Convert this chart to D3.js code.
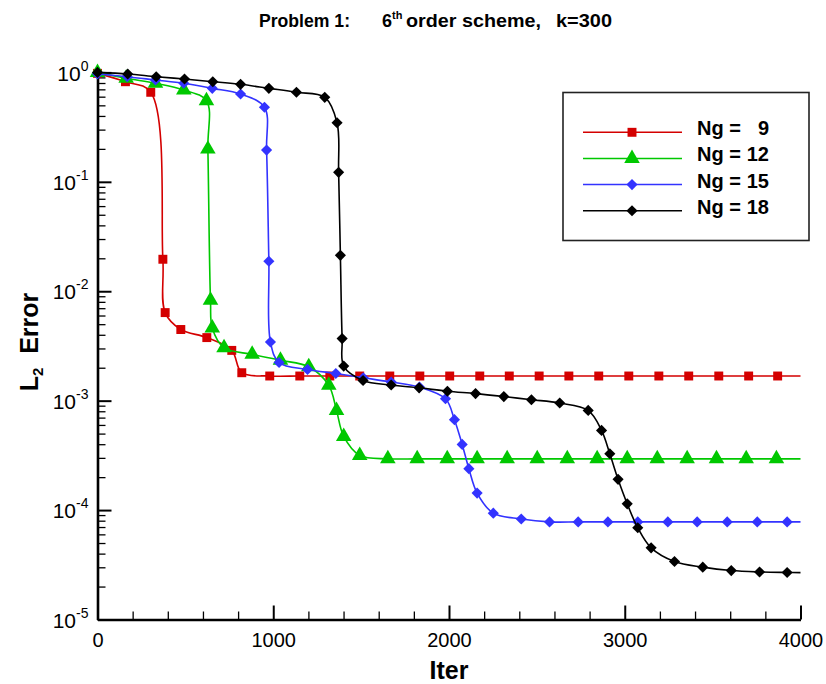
<!DOCTYPE html>
<html>
<head>
<meta charset="utf-8">
<title>Problem 1: 6th order scheme, k=300</title>
<script src="https://d3js.org/d3.v7.min.js"></script>
<style>
    body { margin: 0; background: #fff; }
    svg { display: block; font-family: 'Liberation Sans', Arial, sans-serif; }
    .axis .domain { stroke: #000; stroke-width: 2.6px; }
    .axis .tick line { stroke: #000; }
    .axis text { fill: #000; font-size: 20px; }
</style>
</head>
<body>
<svg id="chart"></svg>
<script>
// iterations / L2 error (last point = end of line, no marker)
const iter9  = [0,159,303,372,385,474,622,764,821,980,1151,1322,1492,1663,1834,2004,2175,2343,2513,2682,2852,3023,3194,3364,3535,3705,3870,4000];
const err9   = [0.98,0.822,0.658,0.0196,0.00638,0.00447,0.00377,0.00288,0.00180,0.00168,0.00168,0.00168,0.00168,0.00168,0.00168,0.00168,0.00168,0.00168,0.00168,0.00168,0.00168,0.00168,0.00168,0.00168,0.00168,0.00168,0.00168,0.00168];

const iter12 = [0,163,330,491,620,628,643,653,720,880,1041,1202,1316,1360,1401,1492,1652,1819,1990,2160,2331,2502,2673,2843,3014,3185,3355,3522,3691,3863,4000];
const err12  = [1.0,0.883,0.795,0.69,0.551,0.199,0.00827,0.00462,0.00305,0.00265,0.00234,0.00204,0.00138,8.15e-4,4.71e-4,3.16e-4,2.94e-4,2.94e-4,2.94e-4,2.94e-4,2.94e-4,2.94e-4,2.94e-4,2.94e-4,2.94e-4,2.94e-4,2.94e-4,2.94e-4,2.94e-4,2.94e-4,2.94e-4];

const iter15 = [0,169,330,491,653,814,950,962,975,984,1033,1195,1356,1512,1671,1832,1980,2031,2075,2113,2160,2252,2411,2572,2735,2904,3074,3245,3412,3583,3754,3924,4000];
const err15  = [0.97,0.913,0.852,0.795,0.715,0.634,0.480,0.195,0.0188,0.00344,0.00223,0.00193,0.00177,0.00162,0.00148,0.00133,0.00104,6.70e-4,3.98e-4,2.39e-4,1.43e-4,9.37e-5,8.29e-5,7.8e-5,7.8e-5,7.8e-5,7.8e-5,7.8e-5,7.8e-5,7.8e-5,7.8e-5,7.8e-5,7.8e-5];

const iter18 = [0,172,334,495,656,814,975,1132,1293,1363,1372,1382,1392,1401,1511,1671,1830,1991,2151,2312,2469,2630,2792,2868,2915,2962,3014,3074,3150,3283,3444,3606,3767,3924,4000];
const err18  = [1.0,0.967,0.913,0.870,0.822,0.778,0.715,0.658,0.592,0.347,0.122,0.0213,0.00369,0.00207,0.00153,0.00139,0.00131,0.00122,0.00116,0.00109,0.00102,9.51e-4,8.15e-4,5.35e-4,3.27e-4,1.91e-4,1.14e-4,6.89e-5,4.52e-5,3.39e-5,3.01e-5,2.80e-5,2.72e-5,2.69e-5,2.68e-5];

const seriesNames = ["9", "12", "15", "18"];
const xTicks = [0, 1000, 2000, 3000, 4000];
const yExponents = [0, -1, -2, -3, -4, -5];

const series = [
    { ng: seriesNames[0], it: iter9,  err: err9,  color: "#d40000", shape: "square" },
    { ng: seriesNames[1], it: iter12, err: err12, color: "#00c800", shape: "triangle" },
    { ng: seriesNames[2], it: iter15, err: err15, color: "#3333ff", shape: "diamond" },
    { ng: seriesNames[3], it: iter18, err: err18, color: "#000000", shape: "diamond" }
];

const width = 826, height = 684;
const svg = d3.select("#chart").attr("width", width).attr("height", height);

const x = d3.scaleLinear().domain([0, 4000]).range([97.5, 800.5]);
const y = d3.scaleLog().domain([1e-5, 1]).range([619.5, 72.4]);

// marker shapes
const symbols = {
    square:   d3.symbol().type(d3.symbolSquare).size(80),
    triangle: d3.symbol().type(d3.symbolTriangle).size(105),
    diamond:  d3.symbol().type(d3.symbolSquare).size(62)
};
const rot = s => s === "diamond" ? " rotate(45)" : "";

// title
const tStyle = t => t.style("font-size", "18px").style("font-weight", "bold");
svg.append("text").attr("x", 259).attr("y", 27).call(tStyle)
    .attr("textLength", 91).attr("lengthAdjust", "spacingAndGlyphs").text("Problem 1:");
const t2 = svg.append("text").attr("x", 382).attr("y", 27).call(tStyle);
t2.append("tspan").text("6");
t2.append("tspan").attr("dy", -8).style("font-size", "11px").text("th");
svg.append("text").attr("x", 406).attr("y", 27).call(tStyle)
    .attr("textLength", 135).attr("lengthAdjust", "spacingAndGlyphs").text("order scheme,");
svg.append("text").attr("x", 556).attr("y", 27).call(tStyle)
    .attr("textLength", 56).attr("lengthAdjust", "spacingAndGlyphs").text("k=300");

// x axis
const minorX = d3.range(0, 4001, 200).filter(v => v % 1000 !== 0);
svg.append("g").attr("class", "axis")
    .attr("transform", "translate(0,619.5)")
    .call(d3.axisBottom(x).tickValues(minorX).tickSize(-8).tickSizeOuter(0).tickFormat(""))
    .call(g => g.select(".domain").remove())
    .selectAll(".tick line").attr("stroke-width", 1.3);
svg.append("g").attr("class", "axis")
    .attr("transform", "translate(0,619.5)")
    .call(d3.axisBottom(x).tickValues(xTicks).tickSize(-14).tickSizeOuter(0).tickPadding(13).tickFormat(d3.format("d")))
    .call(g => g.selectAll(".tick line").attr("stroke-width", 2));

// y axis
const minorY = [];
yExponents.slice(0, -1).forEach(e => { for (let k = 2; k <= 9; k++) minorY.push(k * Math.pow(10, e - 1)); });
svg.append("g").attr("class", "axis")
    .attr("transform", "translate(97.5,0)")
    .call(d3.axisLeft(y).tickValues(minorY).tickSize(-8).tickSizeOuter(0).tickFormat(""))
    .call(g => g.select(".domain").remove())
    .selectAll(".tick line").attr("stroke-width", 1.3);
const yAx = svg.append("g").attr("class", "axis")
    .attr("transform", "translate(97.5,0)")
    .call(d3.axisLeft(y).tickValues(yExponents.map(e => Math.pow(10, e))).tickSize(-14).tickSizeOuter(0).tickPadding(9));
yAx.selectAll(".tick line").attr("stroke-width", 2);
yAx.selectAll(".tick text").each(function(d) {
    const t = d3.select(this).text("").attr("dy", "0.38em");
    t.append("tspan").style("font-size", "21px").text("10");
    t.append("tspan").attr("dy", -10).style("font-size", "14px").text(Math.round(Math.log10(d)));
});

// axis titles
svg.append("text").attr("x", 449).attr("y", 679).attr("text-anchor", "middle")
    .style("font-size", "25px").style("font-weight", "bold").text("Iter");
const yt = svg.append("text").attr("transform", "translate(38,342) rotate(-90)")
    .attr("text-anchor", "middle").style("font-size", "25px").style("font-weight", "bold");
yt.append("tspan").text("L");
yt.append("tspan").attr("dy", 5).style("font-size", "15px").text("2");
yt.append("tspan").attr("dy", -5).text("\u00a0 Error");

// curves
const line = d3.line()
    .x(d => x(d[0]))
    .y(d => y(d[1]))
    .curve(d3.curveCatmullRom.alpha(0.5));

series.forEach(s => {
    const pts = s.it.map((v, i) => [v, s.err[i]]);
    const g = svg.append("g");
    g.append("path").datum(pts)
        .attr("d", line)
        .attr("fill", "none")
        .attr("stroke", s.color)
        .attr("stroke-width", 1.6);
    g.selectAll("path.mk").data(pts.slice(0, -1)).enter().append("path")
        .attr("class", "mk")
        .attr("d", symbols[s.shape])
        .attr("transform", d => `translate(${x(d[0])},${y(d[1])})${rot(s.shape)}`)
        .attr("fill", s.color);
});

// legend
const legend = svg.append("g");
legend.append("rect")
    .attr("x", 563).attr("y", 92.5).attr("width", 246).attr("height", 148)
    .attr("fill", "#fff").attr("stroke", "#222").attr("stroke-width", 1.6);
const rowY = d3.scalePoint().domain(seriesNames).range([132.3, 210.7]);
series.forEach(s => {
    const ly = rowY(s.ng);
    legend.append("line").attr("x1", 583).attr("x2", 682).attr("y1", ly).attr("y2", ly)
        .attr("stroke", s.color).attr("stroke-width", 1.6);
    legend.append("path").attr("d", symbols[s.shape])
        .attr("transform", `translate(632,${ly})${rot(s.shape)}`)
        .attr("fill", s.color);
    legend.append("text").attr("x", 697).attr("y", ly + 3)
        .style("font-size", "20px").style("font-weight", "bold").text("Ng =");
    legend.append("text").attr("x", 769).attr("y", ly + 3).attr("text-anchor", "end")
        .style("font-size", "20px").style("font-weight", "bold").text(s.ng);
});
</script>
</body>
</html>
